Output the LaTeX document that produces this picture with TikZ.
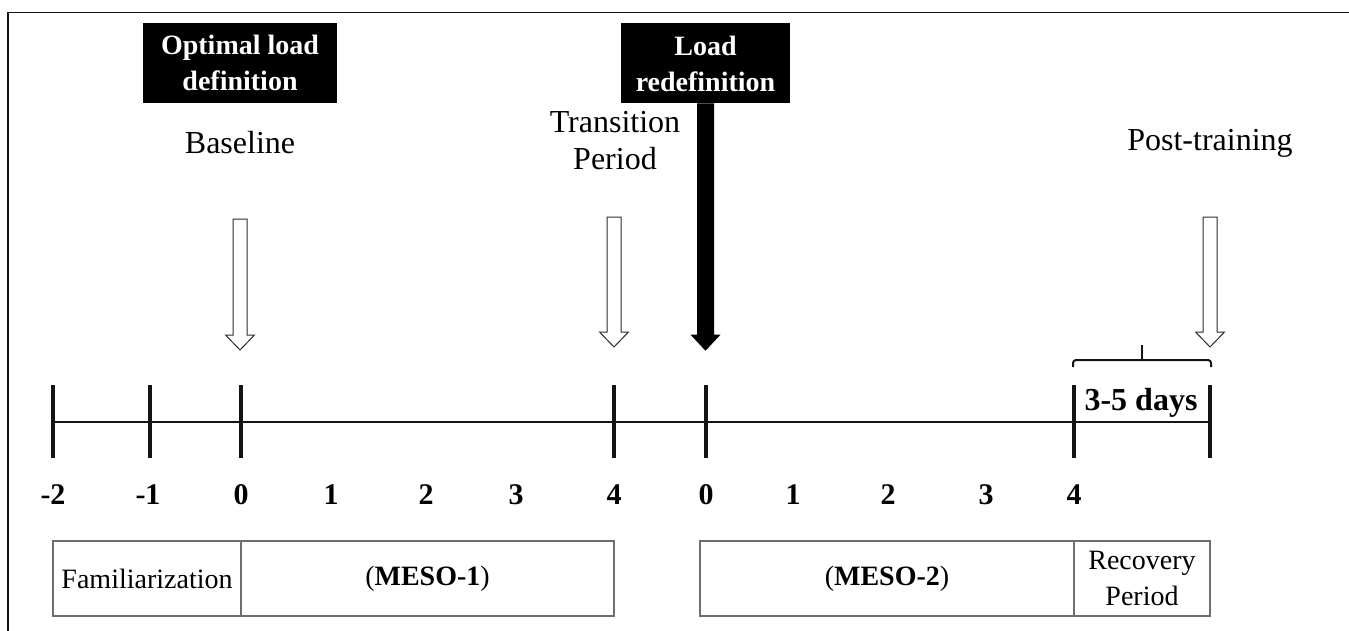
\documentclass[tikz,border=0pt]{standalone}
\usepackage{fontspec}
\setmainfont{Liberation Serif}
\usepackage{xcolor}
\definecolor{Ink}{RGB}{20,20,20}
\definecolor{BoxLine}{RGB}{110,110,110}
\usetikzlibrary{calc}
\tikzstyle{Frame}=[draw=Ink,line width=0.6pt]
\tikzstyle{Axis}=[draw=Ink,line width=1pt]
\tikzstyle{Tick}=[draw=Ink,line width=1.6pt]
\tikzstyle{Num}=[font=\fontsize{15}{18}\selectfont\bfseries,inner sep=0pt]
\tikzstyle{Label}=[font=\fontsize{16}{18.5}\selectfont,align=center,inner sep=0pt]
\tikzstyle{Phase}=[draw=BoxLine,line width=0.6pt,minimum height=37.5pt,
    inner sep=0pt,align=center,font=\fontsize{14}{18}\selectfont]
\tikzstyle{Event}=[fill=black,text=white,inner sep=0pt,minimum height=40pt,
    align=center,font=\fontsize{14}{18}\selectfont\bfseries]
\tikzstyle{Hollow}=[draw=Ink!90,fill=white,line width=0.5pt,line join=miter]
\tikzstyle{Solid}=[draw=black,fill=black,line width=0.5pt,line join=miter]
\tikzstyle{Brace}=[draw=Ink,line width=1pt,rounded corners=1.5pt]
% block arrow: style, from, to, shaft half width, head half width
\newcommand{\BlockArrow}[5]{%
    \draw[#1] let \p1=(#2),\p2=(#3) in
        (\x1-#4,\y1) -- (\x1-#4,\y2+7.5pt) -- (\x1-#5,\y2+7.5pt)
        -- (\x2,\y2) -- (\x1+#5,\y2+7.5pt) -- (\x1+#4,\y2+7.5pt)
        -- (\x1+#4,\y1) -- cycle;}

\begin{document}
\begin{tikzpicture}[x=0.5pt,y=-0.5pt]
    \useasboundingbox (0,0) rectangle (1349,631);
    \draw[Frame](8,631)--(8,12.5)--(1349,12.5);
    % time axis
    \foreach \n/\x in {a/53,b/150,c/241,d/614,e/706,f/1074,g/1210}{
        \coordinate(t\n)at(\x,422);
        \draw[Tick](\x,385)--(\x,458);
    }
    \draw[Axis](ta)--(tg);
    \foreach \x/\l in {53/-2,148/-1,241/0,331/1,426/2,516/3,614/4,
        706/0,793/1,888/2,986/3,1074/4}
        \node[Num](n\x)at(\x,495){\l};
    % phases
    \node[Phase,minimum width=94pt](fam)at(147,578.5){Familiarization};
    \node[Phase,minimum width=186.5pt](m1)at(427.5,578.5)
        {(\textbf{MESO-1})};
    \node[Phase,minimum width=187pt](m2)at(887,578.5){(\textbf{MESO-2})};
    \node[Phase,minimum width=68pt](rec)at(1142,578.5)
        {Recovery\\Period};
    % events
    \node[Event,minimum width=97pt](old)at(240,63)
        {Optimal load\\definition};
    \node[Event,minimum width=84.5pt](lr)at(705.5,63.5)
        {Load\\redefinition};
    \node[Label](base)at(240,143){Baseline};
    \node[Label](trans)at(615,141){Transition\\Period};
    \node[Label](post)at(1210,143){Post-training};
    \coordinate(baseTop)at(240,219);
    \coordinate(baseTip)at(240,350);
    \coordinate(transTop)at(614,217);
    \coordinate(transTip)at(614,347);
    \coordinate(postTop)at(1210,217);
    \coordinate(postTip)at(1210,347);
    \coordinate(lrTip)at(705.5,350);
    \BlockArrow{Hollow}{baseTop}{baseTip}{3.5pt}{7.25pt}
    \BlockArrow{Hollow}{transTop}{transTip}{3.5pt}{7.25pt}
    \BlockArrow{Hollow}{postTop}{postTip}{3.5pt}{7.25pt}
    \BlockArrow{Solid}{lr.south}{lrTip}{4pt}{7pt}
    % recovery span
    \draw[Brace](1073,367)--(1073,360)--(1211,360)--(1211,367);
    \draw[Brace](1142,360)--(1142,345);
    \node[Num,font=\fontsize{16}{18}\selectfont\bfseries](days)
        at(1141,403){3-5 days};
\end{tikzpicture}
\end{document}
